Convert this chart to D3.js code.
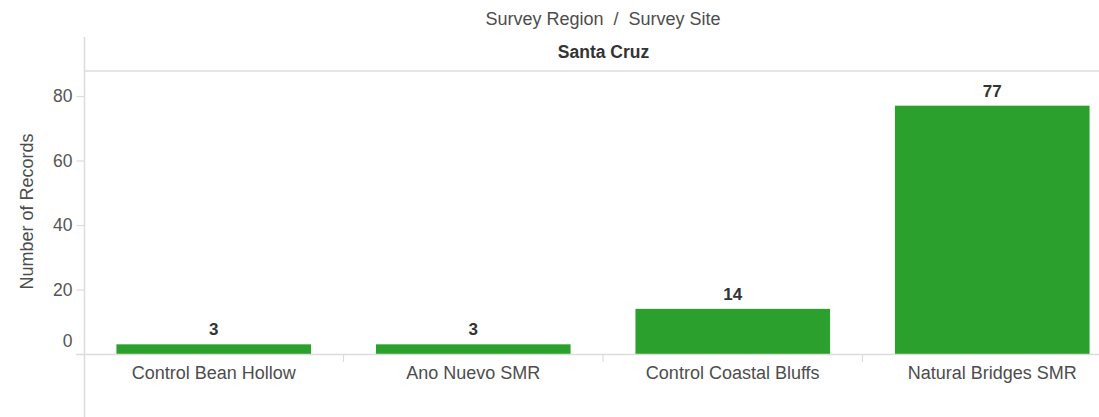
<!DOCTYPE html>
<html>
<head>
<meta charset="utf-8">
<script src="https://cdn.jsdelivr.net/npm/d3@7"></script>
<style>
  html, body { margin: 0; padding: 0; background: #fff; }
  svg { display: block; font-family: "Liberation Sans", Arial, sans-serif; }
</style>
</head>
<body>
<svg id="chart" width="1099" height="417"></svg>
<script>
const sites = ["Control Bean Hollow", "Ano Nuevo SMR", "Control Coastal Bluffs", "Natural Bridges SMR"];
const records = [3, 3, 14, 77];
const yTicks = [0, 20, 40, 60, 80];
const region = "Santa Cruz";
const headerTitle = "Survey Region \u00a0/\u00a0 Survey Site";
const yTitle = "Number of Records";

const svg = d3.select("#chart");
const W = 1099, H = 417;
const left = 84.5;
const lineColor = "#dcdcdc";
const barColor = "#2ca02c";

const x = d3.scaleBand().domain(sites).range([84, 84 + 4 * 259.5]).paddingInner(0.25).paddingOuter(0.125);
const y = d3.scaleLinear().domain([0, 80]).range([354, 96]);

// Title
svg.append("text").attr("x", 603).attr("y", 25).attr("text-anchor", "middle")
  .attr("font-size", 18).attr("fill", "#4d4d4d").text(headerTitle);

// Region header
svg.append("text").attr("x", 603.5).attr("y", 58).attr("text-anchor", "middle")
  .attr("font-size", 17.5).attr("font-weight", "bold").attr("fill", "#333").text(region);

// Left frame line
svg.append("line").attr("x1", left).attr("x2", left).attr("y1", 37).attr("y2", H)
  .attr("stroke", lineColor).attr("stroke-width", 1.5);
// Header separator
svg.append("line").attr("x1", left).attr("x2", W).attr("y1", 71).attr("y2", 71)
  .attr("stroke", lineColor).attr("stroke-width", 1.5);

// Y axis ticks & labels
const yAxis = d3.axisLeft(y).tickValues(yTicks).tickSize(8).tickPadding(4).tickFormat(d3.format("d"));
const yg = svg.append("g").attr("transform", `translate(${left},0)`).call(yAxis);
yg.select(".domain").remove();
yg.selectAll(".tick line").attr("stroke", lineColor).attr("stroke-width", 1.2);
yg.selectAll(".tick text").attr("font-size", 17.5).attr("fill", "#555")
  .attr("font-family", "Liberation Sans, Arial, sans-serif")
  .attr("dy", d => d === 0 ? "-0.45em" : "0.32em");

// Y axis title
svg.append("text").attr("transform", `translate(33,211.5) rotate(-90)`).attr("text-anchor", "middle")
  .attr("font-size", 18).attr("fill", "#4d4d4d").text(yTitle);

// Bars
svg.append("g").selectAll("rect").data(sites).join("rect")
  .attr("x", d => x(d)).attr("width", x.bandwidth())
  .attr("y", (d, i) => y(records[i])).attr("height", (d, i) => y(0) - y(records[i]))
  .attr("fill", barColor);

// Baseline
svg.append("line").attr("x1", 76).attr("x2", W).attr("y1", 354.5).attr("y2", 354.5)
  .attr("stroke", lineColor).attr("stroke-width", 1.5);

// Category dividers
const step = x.step();
svg.append("g").selectAll("line").data(sites.slice(1)).join("line")
  .attr("x1", d => x(d) - x.paddingInner() * step / 2).attr("x2", d => x(d) - x.paddingInner() * step / 2)
  .attr("y1", 355).attr("y2", 362).attr("stroke", lineColor).attr("stroke-width", 1.2);

// Value labels
svg.append("g").selectAll("text").data(sites).join("text")
  .attr("x", d => x(d) + x.bandwidth() / 2).attr("y", (d, i) => y(records[i]) - 9)
  .attr("text-anchor", "middle").attr("font-size", 17).attr("font-weight", "bold").attr("fill", "#333")
  .text((d, i) => records[i]);

// Category labels
svg.append("g").selectAll("text").data(sites).join("text")
  .attr("x", d => x(d) + x.bandwidth() / 2).attr("y", 379)
  .attr("text-anchor", "middle").attr("font-size", 18).attr("fill", "#4d4d4d")
  .text(d => d);
</script>
</body>
</html>
